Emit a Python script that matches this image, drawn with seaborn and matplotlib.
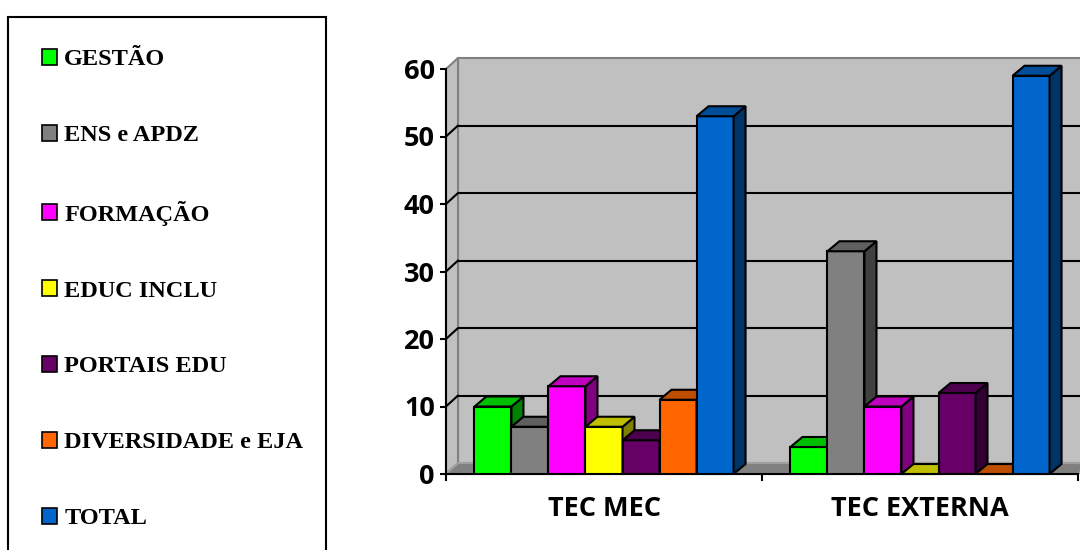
import numpy as np
import pandas as pd
import matplotlib
matplotlib.use("Agg")
import matplotlib.pyplot as plt
from matplotlib.patches import Polygon, Rectangle
from matplotlib.colors import to_rgb
import seaborn as sns

# Data
grupos = ["TEC MEC", "TEC EXTERNA"]
series = ["GESTÃO", "ENS e APDZ", "FORMAÇÃO", "EDUC INCLU",
          "PORTAIS EDU", "DIVERSIDADE e EJA", "TOTAL"]
tec_mec = [10, 7, 13, 7, 5, 11, 53]
tec_externa = [4, 33, 10, 0, 12, 0, 59]
cores = ["#00FF00", "#808080", "#FF00FF", "#FFFF00",
         "#660066", "#FF6600", "#0066CC"]
y_ticks = [0, 10, 20, 30, 40, 50, 60]

df = pd.DataFrame({
    "grupo": np.repeat(grupos, len(series)),
    "serie": series * len(grupos),
    "valor": tec_mec + tec_externa,
})

sns.set_theme(style="white")
plt.rcParams["font.family"] = ["Open Sans", "DejaVu Sans"]

W, H, DPI = 1080, 550, 100
fig = plt.figure(figsize=(W / DPI, H / DPI), dpi=DPI)
fig.patch.set_facecolor("white")

# plot frame (front plane) in pixels
L, R, B, T = 446, 1078, 474, 69
ax = fig.add_axes([L / W, 1 - B / H, (R - L) / W, (B - T) / H])

sns.barplot(data=df, x="grupo", y="valor", hue="serie",
            order=grupos, hue_order=series, palette=cores,
            width=0.82, saturation=1, edgecolor="black", linewidth=1.5,
            errorbar=None, legend=False, ax=ax)

XMIN, XMAX, YMIN, YMAX = -0.5, 1.5, 0, 60
ax.set_xlim(XMIN, XMAX)
ax.set_ylim(YMIN, YMAX)
px_x = (XMAX - XMIN) / (R - L)
px_y = (YMAX - YMIN) / (B - T)


def shade(c, f):
    r, g, b = to_rgb(c)
    return (r * f, g * f, b * f)


# 3D box: back wall, side wall and floor
dxw, dyw = 12 * px_x, 11 * px_y
ax.add_patch(Rectangle((XMIN + dxw, dyw), XMAX - XMIN, YMAX - YMIN,
                       fc="#C0C0C0", ec="#808080", lw=1.5, zorder=0.5,
                       clip_on=False))
ax.add_patch(Polygon([(XMIN, 0), (XMIN + dxw, dyw), (XMIN + dxw, YMAX + dyw),
                      (XMIN, YMAX)], closed=True, fc="#C0C0C0", ec="#808080",
                     lw=1.5, zorder=0.6, clip_on=False))
ax.add_patch(Polygon([(XMIN, 0), (XMAX, 0), (XMAX + dxw, dyw), (XMIN + dxw, dyw)],
                     closed=True, fc="#808080", ec="#A0A0A0", lw=1.5,
                     zorder=0.7, clip_on=False))
for yv in y_ticks[1:-1]:
    ax.plot([XMIN + dxw, XMAX + dxw], [yv + dyw, yv + dyw], color="black",
            lw=1.5, zorder=0.8, clip_on=False, solid_capstyle="butt")
    ax.plot([XMIN, XMIN + dxw], [yv, yv + dyw], color="black",
            lw=1.5, zorder=0.8, clip_on=False)

# 3D faces of each bar
dxb, dyb = 12 * px_x, 10 * px_y
for i, cont in enumerate(ax.containers):
    top_c = shade(cores[i], 0.75)
    side_c = shade(cores[i], 0.5)
    for bar in cont:
        x0, w, h = bar.get_x(), bar.get_width(), bar.get_height()
        z = 3 + i * 0.1
        bar.set_zorder(z)
        side = Polygon([(x0 + w, 0), (x0 + w + dxb, dyb), (x0 + w + dxb, h + dyb),
                        (x0 + w, h)], closed=True, fc=side_c, ec="black",
                       lw=1.5, zorder=z + 0.01, clip_on=False)
        top = Polygon([(x0, h), (x0 + w, h), (x0 + w + dxb, h + dyb),
                       (x0 + dxb, h + dyb)], closed=True, fc=top_c, ec="black",
                      lw=1.5, zorder=z + 0.01, clip_on=False)
        ax.add_patch(side)
        ax.add_patch(top)

# axes styling
ax.patch.set_visible(False)
for s in ["top", "right"]:
    ax.spines[s].set_visible(False)
for s in ["left", "bottom"]:
    ax.spines[s].set_color("black")
    ax.spines[s].set_linewidth(1.5)
    ax.spines[s].set_zorder(2.5)
ax.set_xlabel("")
ax.set_ylabel("")
ax.set_yticks(y_ticks)
ax.set_yticklabels([str(v) for v in y_ticks], fontsize=19.5, fontweight="bold",
                   color="black")
ax.set_xticks(range(len(grupos)))
ax.set_xticklabels(grupos, fontsize=19.5, fontweight="bold", color="black")
ax.set_xticks([XMIN, 0.5, XMAX], minor=True)
ax.tick_params(axis="y", left=True, direction="out", length=4, width=1.5,
               color="black", pad=4)
ax.tick_params(axis="x", which="major", bottom=True, length=0, pad=16)
ax.tick_params(axis="x", which="minor", bottom=True, direction="out",
               length=5, width=1.5, color="black")

# legend
handles = [Rectangle((0, 0), 1, 1, fc=c, ec="black", lw=1.2) for c in cores]
ax.legend(handles, series, loc="upper left",
          bbox_to_anchor=(42 / W, 1 - 49 / H), bbox_transform=fig.transFigure,
          frameon=False, prop={"family": "Liberation Serif", "weight": "bold",
                               "size": 17.5},
          labelcolor="black",
          labelspacing=2.24, handlelength=0.62, handleheight=0.62,
          handletextpad=0.29, borderpad=0, borderaxespad=0)
fig.add_artist(Rectangle((8 / W, -0.1), (326 - 8) / W, 1 - 17 / H + 0.1,
                         transform=fig.transFigure, fill=False, ec="black",
                         lw=1.5))

fig.savefig("out.png", dpi=DPI)
